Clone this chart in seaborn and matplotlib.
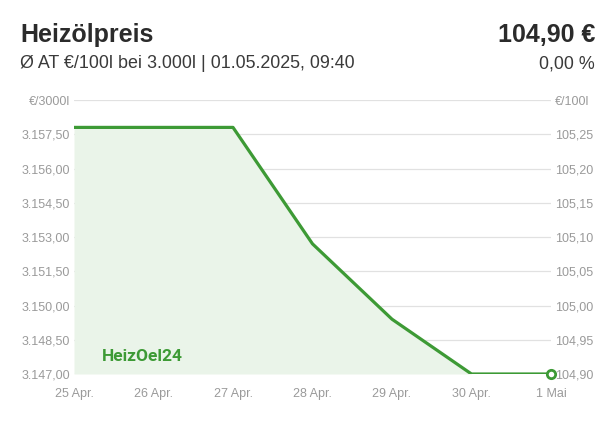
import matplotlib
matplotlib.use("Agg")
import matplotlib.pyplot as plt
import seaborn as sns
import pandas as pd

days = ['25 Apr.', '26 Apr.', '27 Apr.', '28 Apr.', '29 Apr.', '30 Apr.', '1 Mai']
price_100l = [105.26, 105.26, 105.26, 105.09, 104.98, 104.90, 104.90]
left_ticks = [3147.0, 3148.5, 3150.0, 3151.5, 3153.0, 3154.5, 3156.0, 3157.5, 3159.0]
right_ticks = [104.90, 104.95, 105.00, 105.05, 105.10, 105.15, 105.20, 105.25, 105.30]

GREEN = '#3d9a35'
FILL = '#eaf4e9'
GRID = '#e1e1e1'
TICK = '#9a9a9a'

df = pd.DataFrame({'day': range(len(days)), 'label': days, 'price': price_100l})
df['price_3000l'] = df['price'] * 30

sns.set_style('white')
plt.rcParams['font.family'] = ['Liberation Sans', 'DejaVu Sans']

fig = plt.figure(figsize=(6.15, 4.23), dpi=100)
ax = fig.add_axes([74 / 615, 1 - 374 / 423, 477 / 615, 274 / 423])

ax.fill_between(df['day'], df['price_3000l'], left_ticks[0], color=FILL, lw=0, zorder=1)
sns.lineplot(data=df, x='day', y='price_3000l', ax=ax, color=GREEN, lw=2.3, zorder=3)
last = df.iloc[-1]
ax.plot(last['day'], last['price_3000l'], 'o', ms=6, mfc='white', mec=GREEN, mew=2, zorder=4,
        clip_on=False)

ax.set_xlim(0, len(days) - 1)
ax.set_ylim(left_ticks[0], left_ticks[-1])
ax.set_yticks(left_ticks)
ax.set_yticklabels([f'{v:,.2f}'.replace(',', 'X').replace('.', ',').replace('X', '.')
                    for v in left_ticks[:-1]] + ['€/3000l'])
ax.set_xticks(df['day'])
ax.set_xticklabels(days)
ax.grid(axis='y', color=GRID, lw=0.9, zorder=0)
for s in ax.spines.values():
    s.set_visible(False)
ax.tick_params(axis='both', length=0, labelsize=9, labelcolor=TICK)
ax.tick_params(axis='x', pad=10)
ax.tick_params(axis='y', pad=3)
ax.set_xlabel('')
ax.set_ylabel('')

ax2 = ax.twinx()
ax2.set_ylim(right_ticks[0], right_ticks[-1])
ax2.set_yticks(right_ticks)
ax2.set_yticklabels([f'{v:.2f}'.replace('.', ',') for v in right_ticks[:-1]] + ['€/100l'])
ax2.tick_params(axis='y', length=0, labelsize=9, labelcolor=TICK, pad=3)
for s in ax2.spines.values():
    s.set_visible(False)

# logo watermark
ax.text(0.35, 3147.55, 'HeizOel24', color=GREEN, fontsize=12.5, fontweight='bold',
        family=['Roboto', 'DejaVu Sans'], zorder=5)

fig.text(20 / 615, 1 - 35 / 423, 'Heizölpreis', fontsize=18, fontweight='bold',
         color='#2b2b2b', va='center', ha='left')
fig.text(20 / 615, 1 - 64 / 423, 'Ø AT €/100l bei 3.000l | 01.05.2025, 09:40', fontsize=12.9,
         color='#3a3a3a', va='center', ha='left')
fig.text(595 / 615, 1 - 35 / 423, '104,90 €', fontsize=18, fontweight='bold',
         color='#2b2b2b', va='center', ha='right')
fig.text(595 / 615, 1 - 64 / 423, '0,00 %', fontsize=12.9,
         color='#3a3a3a', va='center', ha='right')

fig.savefig('out.png', dpi=100, facecolor='white')
